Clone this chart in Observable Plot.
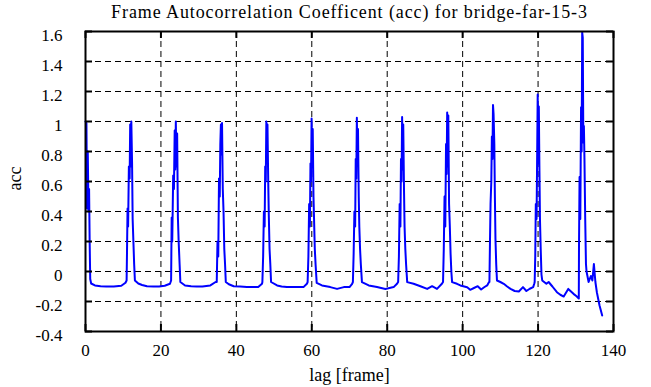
<!DOCTYPE html>
<html>
<head>
<meta charset="utf-8">
<script src="https://cdn.jsdelivr.net/npm/d3@7"></script>
<script src="https://cdn.jsdelivr.net/npm/@observablehq/plot@0.6"></script>
<style>
  html, body { margin: 0; padding: 0; background: #fff; }
  #chart { width: 651px; height: 387px; }
  #chart svg text { font-family: 'Liberation Serif', 'Times New Roman', serif; }
</style>
</head>
<body>
<div id="chart"></div>
<script>
const titleText = "Frame Autocorrelation Coefficent (acc) for bridge-far-15-3";
const xLabel = "lag [frame]";
const yLabel = "acc";

const xTicks = [0, 20, 40, 60, 80, 100, 120, 140];
const xTickLabels = ["0", "20", "40", "60", "80", "100", "120", "140"];
const yTicks = [-0.4, -0.2, 0, 0.2, 0.4, 0.6, 0.8, 1, 1.2, 1.4, 1.6];
const yTickLabels = ["-0.4", "-0.2", "0", "0.2", "0.4", "0.6", "0.8", "1", "1.2", "1.4", "1.6"];
const xGrid = [20, 40, 60, 80, 100, 120];
const yGrid = [-0.2, 0, 0.2, 0.4, 0.6, 0.8, 1, 1.2, 1.4];

const lag = [
  0, 0.25, 0.4, 0.6, 0.8, 0.95, 1.1, 1.25, 1.5, 2.5, 4, 5.5, 7.5, 9.5, 10.6,
  10.9, 11.0, 11.15, 11.3, 11.5, 11.7, 11.85, 12.0, 12.15, 12.35, 12.5, 12.7, 12.9, 13.1,
  14, 15, 16.3, 18, 19.5, 21, 22.4,
  22.7, 22.85, 23.0, 23.25, 23.45, 23.65, 23.8, 23.95, 24.1, 24.3, 24.5, 24.7, 24.95, 25.15,
  26.4, 28, 29.5, 31, 33.1, 34.5,
  34.8, 35.0, 35.2, 35.4, 35.6, 35.75, 35.9, 36.05, 36.2, 36.4, 36.6, 36.8, 37.0, 37.2,
  38, 39.3, 41, 42.8, 44.5, 45.8, 46.8,
  46.9, 47.1, 47.3, 47.5, 47.65, 47.8, 47.95, 48.1, 48.25, 48.45, 48.6, 48.8, 49.0, 49.2,
  50.8, 52, 53.4, 55, 56.5, 57.8, 58.7,
  58.9, 59.1, 59.3, 59.5, 59.65, 59.8, 59.95, 60.1, 60.25, 60.45, 60.6, 60.8, 61.0, 61.3,
  62.7, 64.9, 66.7, 68.5, 70, 70.7,
  70.9, 71.1, 71.3, 71.5, 71.65, 71.8, 71.95, 72.1, 72.25, 72.45, 72.6, 72.8, 73.0, 73.3,
  75.1, 77.3, 79.5, 81.7, 82.6,
  82.9, 83.1, 83.3, 83.5, 83.65, 83.8, 83.95, 84.1, 84.25, 84.45, 84.6, 84.8, 85.0, 85.3,
  87, 88.8, 90.6, 91.9, 93.2, 94.5,
  94.8, 95.0, 95.2, 95.4, 95.6, 95.75, 95.9, 96.05, 96.2, 96.4, 96.6, 96.8, 97.0, 97.2,
  98.5, 99.4, 101.2, 102, 103, 104, 104.9, 105.7, 106.5, 107,
  107.1, 107.25, 107.4, 107.6, 107.75, 107.9, 108.05, 108.2, 108.4, 108.55, 108.7, 108.9, 109.1,
  110, 110.9, 111.8, 112.7, 113.8, 114.9, 116, 116.9, 117.8, 118.7, 119,
  119.1, 119.25, 119.4, 119.6, 119.75, 119.9, 120.05, 120.2, 120.35, 120.5, 120.7, 120.9, 121.1,
  122.2, 122.8, 123.8, 125, 125.9, 126.8, 128, 129.4, 130.2, 130.8,
  130.85, 131.0, 131.2, 131.4, 131.55, 131.7, 131.85, 132.0, 132.15, 132.3, 132.5, 132.7, 132.85,
  133.4, 134.0, 134.4, 134.8, 135.2, 135.6, 136.3, 137.0
];

const acc = [
  1.0, 0.99, 0.42, 0.8, 0.4, 0.55, 0.2, -0.05, -0.08, -0.093, -0.098, -0.1, -0.1, -0.095, -0.075,
  -0.06, 0.12, 0.42, 0.3, 0.7, 0.62, 0.98, 0.7, 1.0, 0.72, 0.35, 0.2, 0.05, -0.06,
  -0.08, -0.09, -0.098, -0.1, -0.1, -0.095, -0.082,
  -0.06, 0.36, 0.2, 0.64, 0.55, 0.94, 0.68, 1.0, 0.7, 0.92, 0.36, 0.2, 0.05, -0.07,
  -0.093, -0.098, -0.1, -0.1, -0.093, -0.07,
  -0.07, 0.2, 0.1, 0.62, 0.5, 0.85, 0.98, 0.78, 0.99, 0.55, 0.4, 0.15, 0.05, -0.07,
  -0.085, -0.098, -0.1, -0.104, -0.104, -0.104, -0.082,
  -0.07, 0.1, 0.4, 0.3, 0.7, 0.6, 1.0, 0.72, 0.98, 0.6, 0.38, 0.15, 0.05, -0.07,
  -0.093, -0.1, -0.104, -0.104, -0.104, -0.104, -0.082,
  -0.07, 0.1, 0.45, 0.3, 0.72, 0.6, 1.02, 0.7, 0.95, 0.5, 0.35, 0.15, 0.05, -0.076,
  -0.093, -0.104, -0.116, -0.104, -0.104, -0.082,
  -0.07, 0.12, 0.4, 0.3, 0.75, 0.62, 1.025, 0.72, 0.95, 0.5, 0.3, 0.15, 0.05, -0.071,
  -0.093, -0.104, -0.116, -0.104, -0.082,
  -0.07, 0.1, 0.45, 0.3, 0.75, 0.6, 1.03, 0.68, 0.98, 0.55, 0.3, 0.15, 0.05, -0.071,
  -0.082, -0.098, -0.116, -0.098, -0.116, -0.082,
  -0.07, 0.15, 0.5, 0.3, 0.85, 0.65, 1.06, 0.7, 1.04, 0.45, 0.3, 0.12, 0.0, -0.071,
  -0.082, -0.093, -0.105, -0.122, -0.11, -0.098, -0.12, -0.105, -0.093, -0.07,
  -0.07, 0.2, 0.45, 0.6, 0.9, 0.75, 1.11, 1.05, 0.85, 0.5, 0.22, 0.05, -0.06,
  -0.07, -0.082, -0.1, -0.116, -0.13, -0.133, -0.104, -0.13, -0.115, -0.104, -0.08,
  -0.07, 0.1, 0.45, 0.35, 0.75, 1.18, 0.72, 1.1, 0.7, 0.35, 0.15, -0.02, -0.06,
  -0.082, -0.07, -0.1, -0.138, -0.155, -0.167, -0.116, -0.149, -0.165, -0.18,
  0.15, 0.63, 0.35, 1.095, 0.8, 1.595, 1.56, 0.86, 0.97, 0.75, 0.35, 0.05, 0.0,
  -0.07, -0.03, -0.06, 0.05, -0.07, -0.14, -0.227, -0.293
];

const data = lag.map((l, i) => ({lag: l, acc: acc[i]}));
const xTickData = xTicks.map((v, i) => ({v, label: xTickLabels[i]}));
const yTickData = yTicks.map((v, i) => ({v, label: yTickLabels[i]}));

const FONT = "'Liberation Serif', 'Times New Roman', serif";

const chart = Plot.plot({
  width: 651,
  height: 387,
  marginLeft: 85,
  marginRight: 38,
  marginTop: 31,
  marginBottom: 56,
  style: {fontFamily: FONT, fontSize: "17px", background: "#fff", color: "#000"},
  x: {domain: [0, 140], axis: null},
  y: {domain: [-0.4, 1.6], axis: null},
  marks: [
    Plot.ruleX(xGrid, {x: d => d, stroke: "#000", strokeWidth: 1, strokeDasharray: "6,4"}),
    Plot.ruleY(yGrid, {y: d => d, stroke: "#000", strokeWidth: 1, strokeDasharray: "6,4"}),
    Plot.line(data, {x: "lag", y: "acc", stroke: "#0000ff", strokeWidth: 2}),
    Plot.tickY(yTicks, {y: d => d, stroke: "#000", strokeWidth: 2, insetRight: 521}),
    Plot.tickY(yTicks, {y: d => d, stroke: "#000", strokeWidth: 2, insetLeft: 521}),
    Plot.tickX(xTicks, {x: d => d, stroke: "#000", strokeWidth: 2, insetTop: 293}),
    Plot.tickX(xTicks, {x: d => d, stroke: "#000", strokeWidth: 2, insetBottom: 293}),
    Plot.frame({stroke: "#000", strokeWidth: 2}),
    Plot.text(yTickData, {y: "v", text: "label", frameAnchor: "left", textAnchor: "end", dx: -23, dy: 4, fontSize: 17, fontFamily: FONT}),
    Plot.text(xTickData, {x: "v", text: "label", frameAnchor: "bottom", lineAnchor: "top", dy: 12, fontSize: 17, fontFamily: FONT}),
    Plot.text([titleText], {text: d => d, frameAnchor: "top", lineAnchor: "bottom", dy: -14, fontSize: 18, fontFamily: FONT}),
    Plot.text([xLabel], {text: d => d, frameAnchor: "bottom", lineAnchor: "bottom", dy: 49, fontSize: 18, fontFamily: FONT}),
    Plot.text([yLabel], {text: d => d, frameAnchor: "left", rotate: -90, dx: -70, fontSize: 18, fontFamily: FONT})
  ]
});
chart.querySelectorAll("text").forEach(t => {
  if (t.textContent === titleText) t.style.letterSpacing = "0.9px";
  if (t.textContent === yLabel) {
    const tr = t.getAttribute("transform") || "";
    t.setAttribute("transform", "translate(0,9) " + tr);
  }
});
document.getElementById("chart").appendChild(chart);
</script>
</body>
</html>
